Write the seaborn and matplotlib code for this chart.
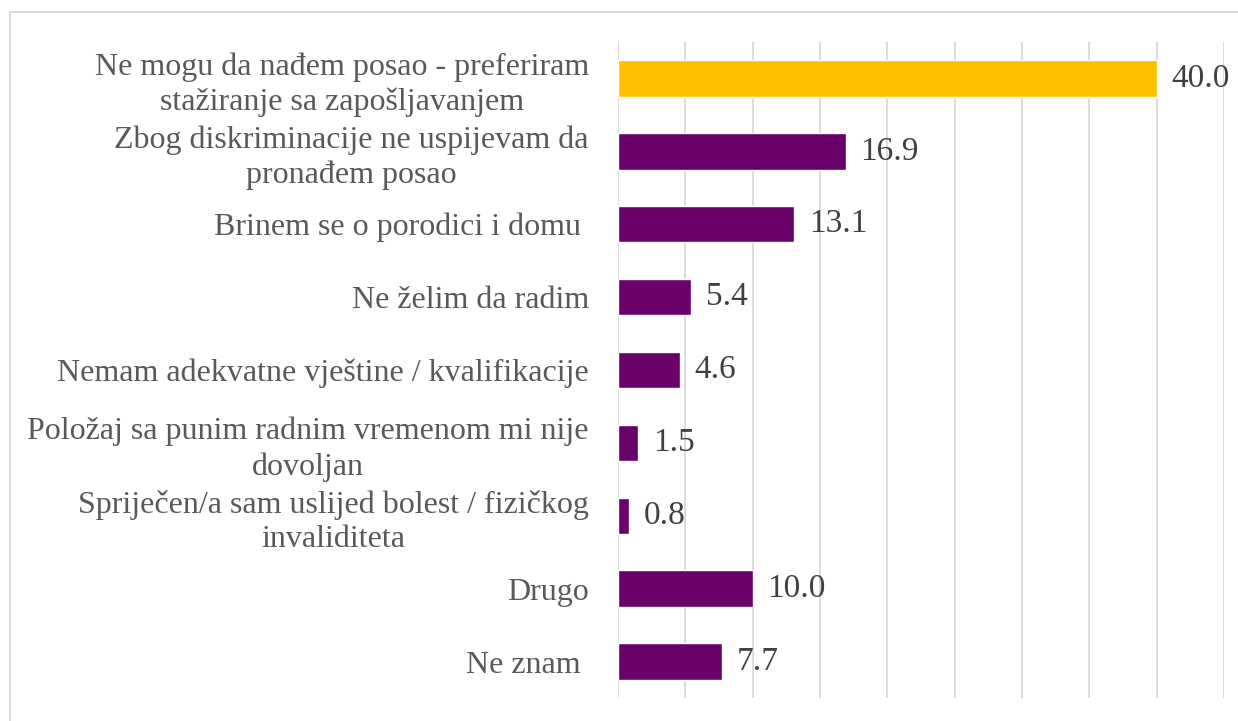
import matplotlib
matplotlib.use("Agg")
import matplotlib.pyplot as plt
import seaborn as sns
import pandas as pd
from matplotlib.patches import Rectangle

categories = [
    "Ne mogu da nađem posao - preferiram\nstažiranje sa zapošljavanjem",
    "Zbog diskriminacije ne uspijevam da\npronađem posao",
    "Brinem se o porodici i domu ",
    "Ne želim da radim",
    "Nemam adekvatne vještine / kvalifikacije",
    "Položaj sa punim radnim vremenom mi nije\ndovoljan",
    "Spriječen/a sam uslijed bolest / fizičkog\ninvaliditeta",
    "Drugo",
    "Ne znam ",
]
values = [40.0, 16.9, 13.1, 5.4, 4.6, 1.5, 0.8, 10.0, 7.7]
bar_colors = ["#FFC000"] + ["#6A006A"] * 8

df = pd.DataFrame({"cat": categories, "val": values})

sns.set_theme(style="white")
plt.rcParams["font.family"] = ["Liberation Serif", "DejaVu Serif"]

fig = plt.figure(figsize=(12.38, 7.21), dpi=100)
ax = fig.add_axes([0.4992, 0.0319, 0.4895, 0.9098])

sns.barplot(data=df, y="cat", x="val", hue="cat", palette=bar_colors,
            legend=False, width=0.5, ax=ax, saturation=1)

ax.set_xlim(0, 45)
ax.set_ylim(8.5, -0.5)
ax.set_xticks(range(0, 46, 5))
ax.set_xticklabels([])
ax.grid(axis="x", color="#D9D9D9", linewidth=1.3)
ax.set_axisbelow(True)
for s in ax.spines.values():
    s.set_visible(False)
ax.set_xlabel("")
ax.set_ylabel("")
ax.tick_params(axis="y", length=0, pad=21)
ax.tick_params(axis="x", length=0)
for lab in ax.get_yticklabels():
    lab.set_fontsize(23)
    lab.set_color("#595959")
    lab.set_multialignment("center")
    lab.set_linespacing(1.25)

for i, v in enumerate(values):
    ax.text(v + 1.1, i, f"{v:.1f}", va="center", ha="left",
            fontsize=24, color="#404040")

fig.patches.append(Rectangle((10 / 1238, -0.05), 1.1, 1 - 12 / 721 + 0.05,
                             transform=fig.transFigure, fill=False,
                             edgecolor="#D9D9D9", linewidth=1.5))

fig.savefig("out.png", dpi=100)
